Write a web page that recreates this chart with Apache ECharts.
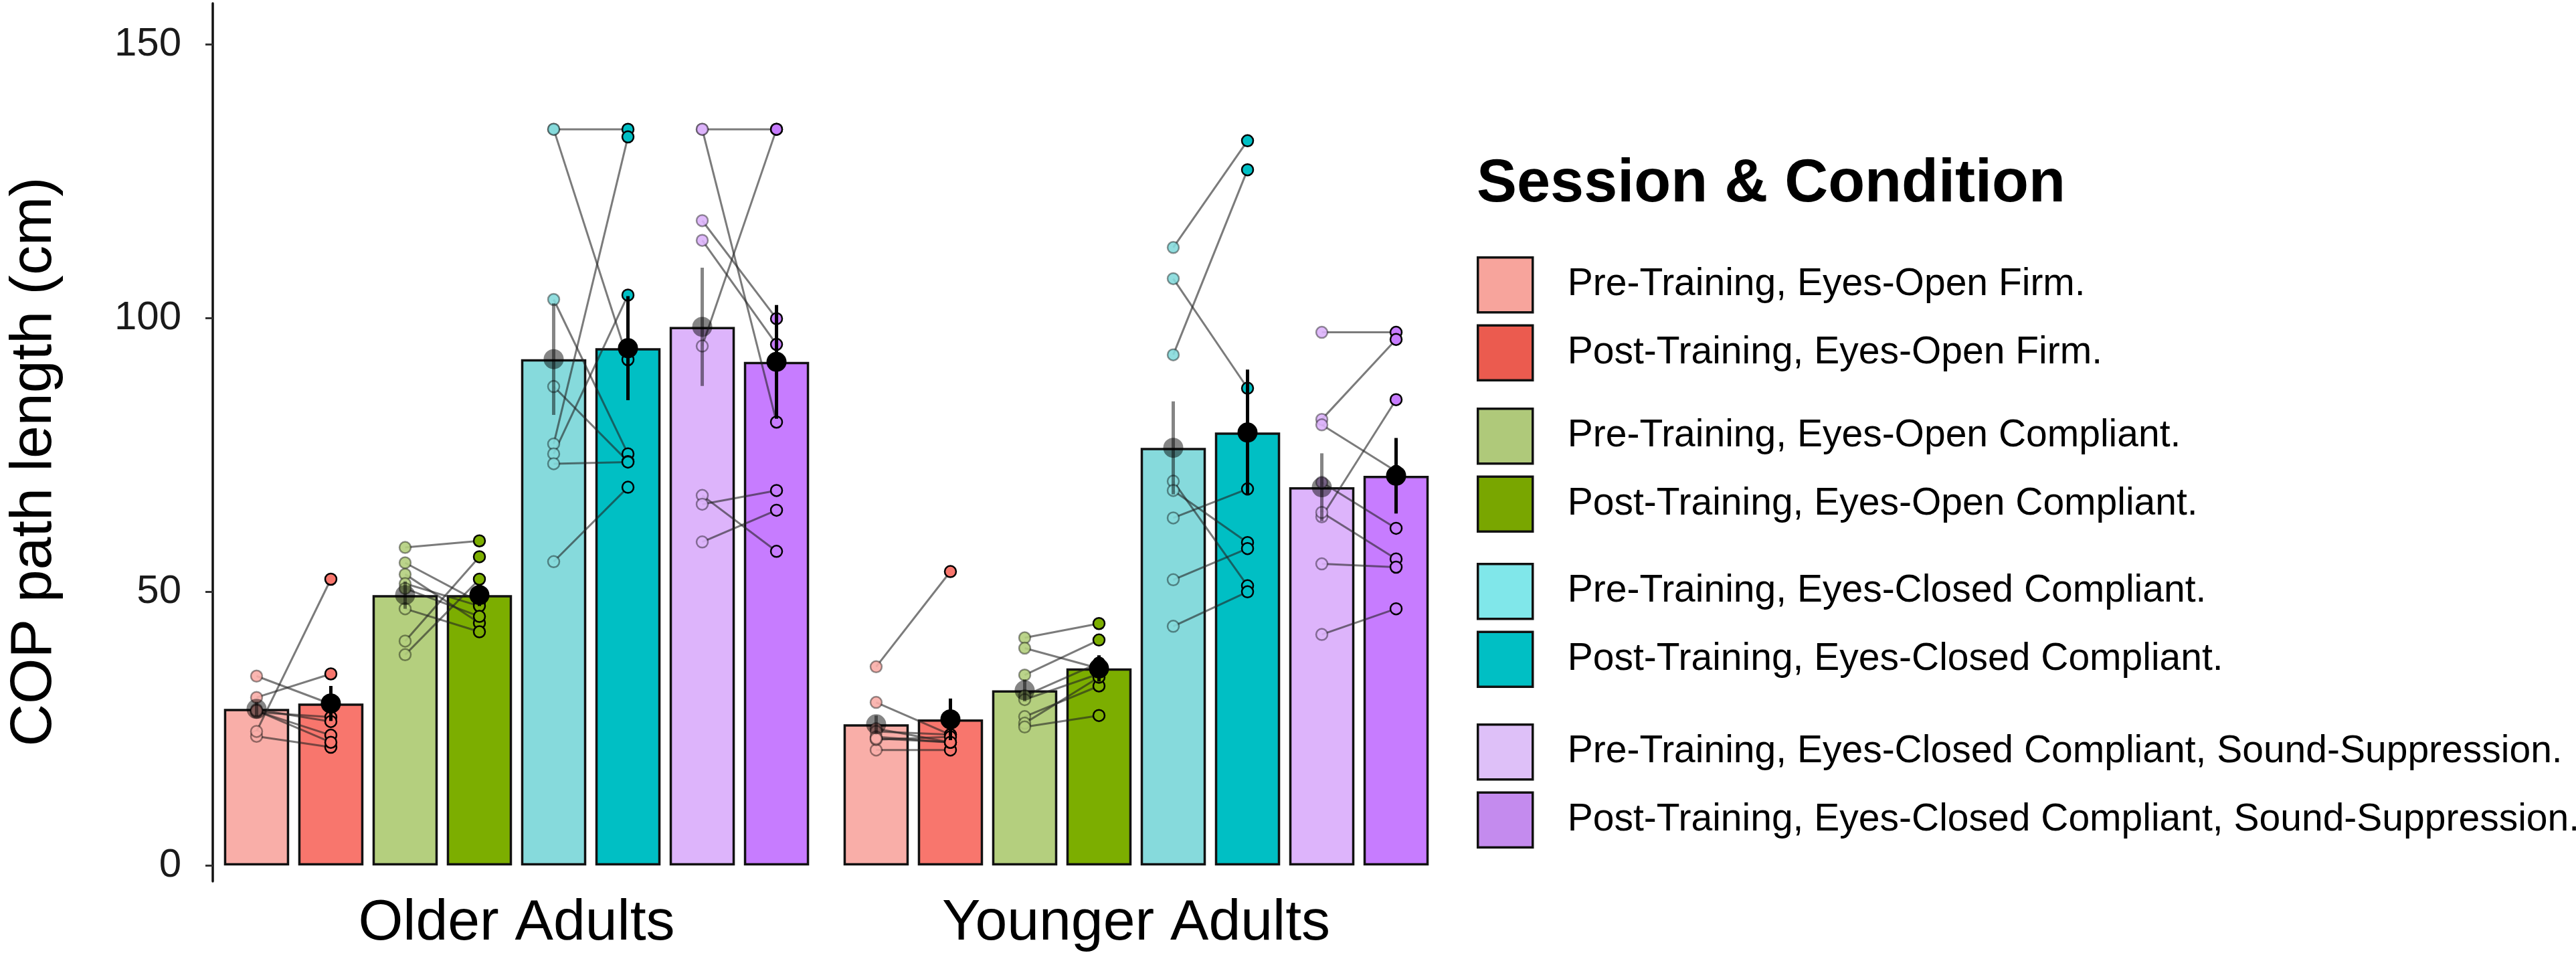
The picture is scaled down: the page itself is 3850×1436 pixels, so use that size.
<!DOCTYPE html>
<html><head><meta charset="utf-8">
<script src="https://cdn.jsdelivr.net/npm/echarts@6/dist/echarts.min.js"></script>
<style>html,body{margin:0;padding:0;background:#fff}#c{width:3850px;height:1436px}</style>
</head><body><div id="c"></div>
<script>
// ---------- data ----------
const groups = ['Older Adults', 'Younger Adults'];
const conditions = [
  'Pre-Training, Eyes-Open Firm.',
  'Post-Training, Eyes-Open Firm.',
  'Pre-Training, Eyes-Open Compliant.',
  'Post-Training, Eyes-Open Compliant.',
  'Pre-Training, Eyes-Closed Compliant.',
  'Post-Training, Eyes-Closed Compliant.',
  'Pre-Training, Eyes-Closed Compliant, Sound-Suppression.',
  'Post-Training, Eyes-Closed Compliant, Sound-Suppression.'
];
const yTicks = [0, 50, 100, 150];

// bar heights (group means) and standard errors
const meanOlder   = [28.6, 29.6, 49.4, 49.4, 92.5, 94.5, 98.4, 92.0];
const meanYounger = [25.8, 26.7, 32.0, 36.0, 76.3, 79.1, 69.1, 71.2];
const seOlder     = [1.3, 3.2, 2.5, 2.0, 10.2, 9.5, 10.8, 10.4];
const seYounger   = [1.6, 3.8, 2.0, 2.4, 8.5, 11.5, 6.2, 6.9];

// individual participants (pre / post pairs)
const olderFirmPre    = [34.6, 30.7, 23.6, 24.5, 28.0, 28.5, 28.2, 28.3];
const olderFirmPost   = [29.5, 35.0, 21.6, 52.3, 27.1, 26.3, 23.8, 22.5];
const olderEOCPre     = [58.1, 55.3, 53.2, 51.5, 50.6, 46.9, 41.0, 38.5];
const olderEOCPost    = [59.3, 48.1, 44.3, 47.4, 45.5, 42.7, 56.4, 52.3];
const olderECCPre     = [134.5, 134.5, 77.0, 103.4, 87.5, 75.2, 73.4, 55.5];
const olderECCPost    = [134.5, 92.4, 133.1, 75.2, 73.8, 104.2, 73.7, 69.1];
const olderSSPre      = [134.5, 134.5, 94.9, 117.8, 114.2, 67.6, 66.0, 59.1];
const olderSSPost     = [134.5, 81.0, 134.5, 99.9, 95.2, 57.4, 68.5, 64.9];

const youngerFirmPre  = [36.3, 29.8, 21.1, 25.0, 24.5, 23.5, 23.0, 23.2];
const youngerFirmPost = [53.7, 23.9, 21.1, 22.5, 23.9, 22.5, 23.5, 22.5];
const youngerEOCPre   = [41.6, 39.7, 34.8, 31.0, 30.3, 27.2, 26.0, 25.3];
const youngerEOCPost  = [44.2, 36.0, 41.2, 37.0, 35.0, 32.8, 34.4, 27.4];
const youngerECCPre   = [112.9, 107.2, 93.3, 70.2, 68.5, 63.5, 52.2, 43.7];
const youngerECCPost  = [132.4, 87.2, 127.1, 51.1, 59.0, 68.8, 57.9, 50.0];
const youngerSSPre    = [97.4, 81.5, 80.5, 70.0, 63.7, 64.5, 55.1, 42.2];
const youngerSSPost   = [97.4, 96.1, 72.0, 61.6, 85.1, 56.0, 54.5, 46.9];

// ---------- styles ----------
const barColors    = ['#F9AEA8', '#F8766D', '#B4CF7E', '#7CAE00', '#86DADC', '#00BFC4', '#DDB4FB', '#C77CFF'];
const legendColors = ['#F7A49C', '#EB5B4F', '#AFC97A', '#79A600', '#80E7EA', '#00BFC4', '#DEC0F8', '#C48BEE'];
const FONT = 'Liberation Sans';
const BW_FRAC = 0.1053;       // bar width as fraction of category band
const GAP_RATIO = 0.1385;     // gap between bars relative to bar width
const PITCH = BW_FRAC * (1 + GAP_RATIO);

const pairs = [
  [olderFirmPre, olderFirmPost, youngerFirmPre, youngerFirmPost],
  [olderEOCPre, olderEOCPost, youngerEOCPre, youngerEOCPost],
  [olderECCPre, olderECCPost, youngerECCPre, youngerECCPost],
  [olderSSPre, olderSSPost, youngerSSPre, youngerSSPost]
];

const lineData = [], pointData = [], summaryData = [];
pairs.forEach((p, c) => {
  for (let g = 0; g < 2; g++) {
    const pre = p[g * 2], post = p[g * 2 + 1];
    pre.forEach((v, k) => lineData.push([g, c, v, post[k]]));
    pre.forEach(v => pointData.push([g, 2 * c, v]));
    post.forEach(v => pointData.push([g, 2 * c + 1, v]));
  }
});
for (let i = 0; i < 8; i++) {
  summaryData.push([0, i, meanOlder[i], seOlder[i]]);
  summaryData.push([1, i, meanYounger[i], seYounger[i]]);
}

function barPos(api, g, i, v) {
  const p = api.coord([g, v]);
  const band = api.size([1, 0])[0];
  return [p[0] + (i - 3.5) * band * PITCH, p[1]];
}

const series = conditions.map((name, i) => ({
  type: 'bar', name,
  data: [meanOlder[i], meanYounger[i]],
  barWidth: (BW_FRAC * 100) + '%',
  barGap: (GAP_RATIO * 100) + '%',
  z: 2,
  itemStyle: { color: barColors[i], borderColor: '#111', borderWidth: 3.5 },
  emphasis: { disabled: true }
}));

series.push({
  type: 'custom', name: 'pairs', z: 3, silent: true,
  data: lineData,
  renderItem: (params, api) => {
    const g = api.value(0), c = api.value(1);
    const a = barPos(api, g, 2 * c, api.value(2));
    const b = barPos(api, g, 2 * c + 1, api.value(3));
    return { type: 'line', shape: { x1: a[0], y1: a[1], x2: b[0], y2: b[1] },
      style: { stroke: 'rgba(35,35,35,0.6)', lineWidth: 3 } };
  }
});

series.push({
  type: 'custom', name: 'points', z: 4, silent: true,
  data: pointData,
  renderItem: (params, api) => {
    const g = api.value(0), i = api.value(1);
    const p = barPos(api, g, i, api.value(2));
    const isPre = i % 2 === 0;
    return { type: 'circle', shape: { cx: p[0], cy: p[1], r: 8.5 },
      style: { fill: barColors[i], stroke: isPre ? 'rgba(0,0,0,0.45)' : '#000', lineWidth: 2.5,
               opacity: isPre ? 0.9 : 1 } };
  }
});

series.push({
  type: 'custom', name: 'summary', z: 5, silent: true,
  data: summaryData,
  renderItem: (params, api) => {
    const g = api.value(0), i = api.value(1), m = api.value(2), se = api.value(3);
    const top = barPos(api, g, i, m + se), bot = barPos(api, g, i, m - se), mid = barPos(api, g, i, m);
    const col = i % 2 === 0 ? 'rgba(0,0,0,0.48)' : '#000';
    return { type: 'group', children: [
      { type: 'line', shape: { x1: top[0], y1: top[1], x2: bot[0], y2: bot[1] }, style: { stroke: col, lineWidth: 5 } },
      { type: 'circle', shape: { cx: mid[0], cy: mid[1], r: 15 }, style: { fill: col } }
    ] };
  }
});

const legendTops = [383, 609, 841, 1081];
const legends = legendTops.map((t, k) => ({
  orient: 'vertical', left: 2207, top: t, padding: 0,
  itemWidth: 82, itemHeight: 82, itemGap: 16, icon: 'rect', selectedMode: false,
  textStyle: { fontSize: 57, fontFamily: FONT, color: '#000', padding: [0, 0, 0, 47] },
  data: [0, 1].map(j => ({ name: conditions[2 * k + j], icon: 'rect',
    itemStyle: { color: legendColors[2 * k + j], borderColor: '#111', borderWidth: 3.5 } }))
}));

const chart = echarts.init(document.getElementById('c'));
chart.setOption({
  backgroundColor: '#fff',
  animation: false,
  title: { text: 'Session & Condition', left: 2207, top: 231, padding: 0,
    textStyle: { fontSize: 90, fontWeight: 'bold', fontFamily: FONT, color: '#000', lineHeight: 90 } },
  legend: legends,
  grid: { left: 309, right: 1689, top: 5, bottom: 119, containLabel: false },
  xAxis: {
    type: 'category', data: groups,
    axisLine: { show: false }, axisTick: { show: false },
    axisLabel: { fontSize: 86, fontFamily: FONT, color: '#000', margin: 20 }
  },
  yAxis: {
    type: 'value', min: -2.9, max: 157.5, offset: -9,
    axisLine: { show: true, lineStyle: { color: '#111', width: 3.5 } },
    axisTick: { show: true, length: 11, customValues: yTicks, lineStyle: { color: '#333', width: 3 } },
    axisLabel: { customValues: yTicks, fontSize: 60, fontFamily: FONT, color: '#1a1a1a', margin: 47 },
    splitLine: { show: false }
  },
  graphic: [{
    type: 'text',
    rotation: Math.PI / 2,
    x: 52, y: 690,
    style: { text: 'COP path length (cm)', fontSize: 88, fontFamily: FONT, fill: '#000',
      textAlign: 'center', textVerticalAlign: 'middle' }
  }],
  series
});
</script></body></html>
